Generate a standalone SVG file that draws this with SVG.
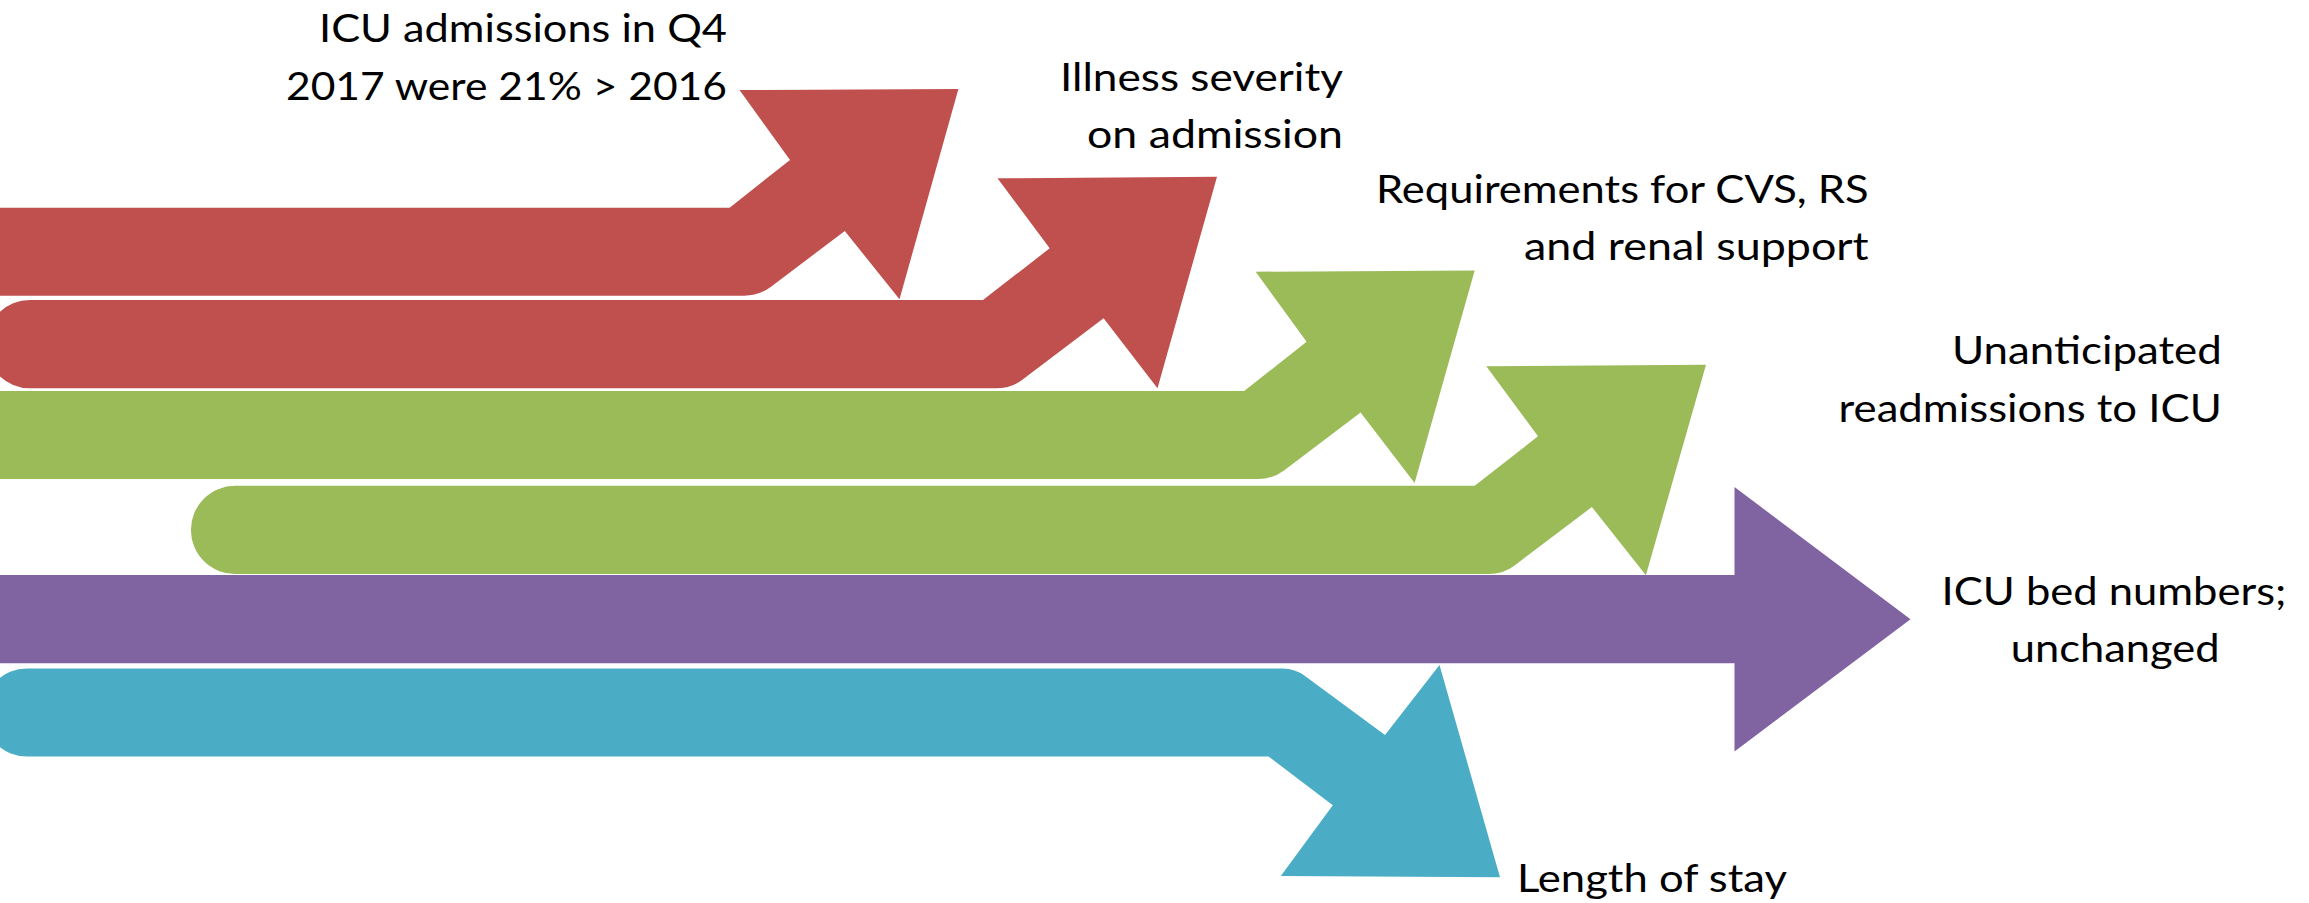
<svg xmlns="http://www.w3.org/2000/svg" width="2309" height="903" viewBox="0 0 2309 903">
<style>
.red{fill:#C0504D}
.green{fill:#9BBB59}
.purple{fill:#8064A2}
.blue{fill:#4BACC6}
.lbl{font-family:Lato,"Open Sans","Liberation Sans",sans-serif;font-size:39px;fill:#000}
</style>
<rect width="2309" height="903" fill="#fff"/>
<g id="admissions">
<path class="red" d="M0,207.7 H729.6 L790,160 L739.5,90 L958.4,89 L899.5,299.3 L844.8,231 L771,286.7 Q759.1,295.7 744,295.7 H0 Z"/>
<text class="lbl" x="319" y="41.7" textLength="408" lengthAdjust="spacingAndGlyphs">ICU admissions in Q4</text>
<text class="lbl" x="286" y="100" textLength="441" lengthAdjust="spacingAndGlyphs">2017 were 21% &gt; 2016</text>
</g>
<g id="severity">
<path class="red" d="M30,300 H983 L1049.7,248.3 L997.5,178.3 L1217,176.7 L1157.5,388.3 L1103.6,318.3 L1022,380 Q1010.9,388.3 996,388.3 H30 A44.15,44.15 0 0 1 30,300 Z"/>
<text class="lbl" x="1060" y="90.5" textLength="283" lengthAdjust="spacingAndGlyphs">Illness severity</text>
<text class="lbl" x="1087" y="147.5" textLength="256" lengthAdjust="spacingAndGlyphs">on admission</text>
</g>
<g id="requirements">
<path class="green" d="M0,391 H1244.2 L1306.6,341.8 L1255.7,271.7 L1474.7,270.6 L1414.6,483 L1360.6,412.5 L1284,470.4 Q1272.6,479 1258,479 H0 Z"/>
<text class="lbl" x="1376" y="202.8" textLength="492.7" lengthAdjust="spacingAndGlyphs">Requirements for CVS, RS</text>
<text class="lbl" x="1524" y="260.2" textLength="344.7" lengthAdjust="spacingAndGlyphs">and renal support</text>
</g>
<g id="readmissions">
<path class="green" d="M235,485.8 H1474.7 L1538,436.3 L1486.3,366.2 L1706,364.7 L1645.9,575.2 L1591.9,507 L1514.6,565.4 Q1503.2,574 1489,574 H235 A44.1,44.1 0 0 1 235,485.8 Z"/>
<text class="lbl" x="1952" y="363.6" textLength="269.8" lengthAdjust="spacingAndGlyphs">Unanticipated</text>
<text class="lbl" x="1838.6" y="421.7" textLength="383.2" lengthAdjust="spacingAndGlyphs">readmissions to ICU</text>
</g>
<g id="beds">
<path class="purple" d="M0,575 H1734.5 V487 L1910.5,619.3 L1734.5,751.5 V663.3 H0 Z"/>
<text class="lbl" x="1941.5" y="605" textLength="344.9" lengthAdjust="spacingAndGlyphs">ICU bed numbers;</text>
<text class="lbl" x="2010.7" y="662.3" textLength="208.9" lengthAdjust="spacingAndGlyphs">unchanged</text>
</g>
<g id="stay">
<path class="blue" d="M27,668.5 H1283 Q1295,668.5 1305,676 L1385,735 L1439.5,665 L1500,877.3 L1280.8,876 L1332.8,805.3 L1268.6,756.5 H27 A44,44 0 0 1 27,668.5 Z"/>
<text class="lbl" x="1517" y="892" textLength="270" lengthAdjust="spacingAndGlyphs">Length of stay</text>
</g>
<g id="connectors"/>
</svg>
